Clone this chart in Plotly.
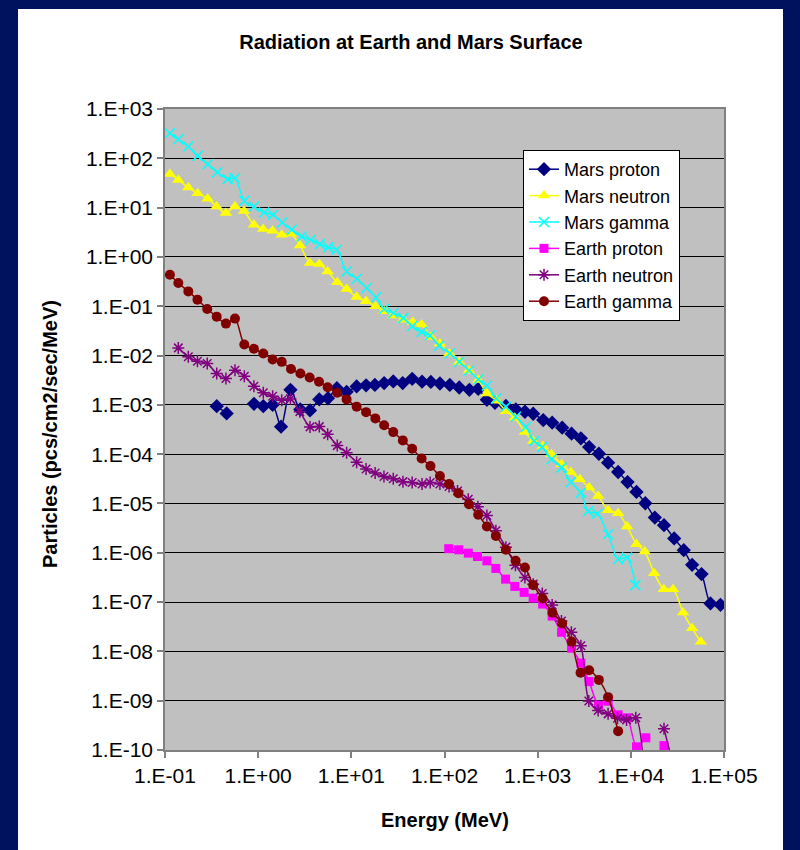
import plotly.graph_objects as go

# ---------------- data ----------------
mars_proton_E = [0.359, 0.459, 0.71, 0.902, 1.135, 1.43, 1.76, 2.22, 2.83, 3.6,
                 4.53, 5.61, 7.0, 8.9, 11.4, 14.4, 17.9, 22.5, 28.2, 35.6,
                 45.0, 57.4, 71.4, 89.3, 114, 144, 185, 230, 285, 348,
                 456, 583, 730, 895, 1147, 1431, 1833, 2311, 2910, 3570,
                 4540, 5700, 7310, 9220, 11500, 14300, 18100, 22700, 29200, 37000,
                 45500, 57400, 71600, 91600]
mars_proton_F = [0.000942, 0.00067, None, 0.00105, 0.000942, 0.001, 0.00036, 0.00202, 0.000807, 0.00077,
                 0.00129, 0.00136, 0.00217, 0.00184, 0.00236, 0.00249, 0.00253, 0.00277, 0.00298, 0.00276,
                 0.00337, 0.00295, 0.00291, 0.00271, 0.00253, 0.00225, 0.00202, 0.0021, 0.00127, 0.0011,
                 0.00095, 0.000807, 0.000724, 0.00066, 0.00049, 0.000434, 0.000344, 0.00026, 0.000209, 0.000139,
                 0.000102, 6.73e-5, 4.35e-5, 2.72e-5, 1.71e-5, 1.01e-5, 5.18e-6, 3.62e-6, 1.95e-6, 1.13e-6,
                 5.69e-7, 3.69e-7, 9.4e-8, 8.8e-8]

mars_neutron_E = [0.113, 0.139, 0.178, 0.224, 0.287, 0.358, 0.451, 0.564, 0.705, 0.90,
                  1.13, 1.43, 1.79, 2.25, 2.81, 3.60, 4.53, 5.57, 7.06, 8.9,
                  11.4, 14.4, 18.2, 22.5, 28.2, 36.1, 45.5, 56.8, 71.4, 89.3,
                  113, 144, 183, 231, 285, 365, 456, 569, 730, 895,
                  1130, 1409, 1804, 2270, 2840, 3570, 4460, 5700, 7310, 9120,
                  11500, 14100, 17800, 22600, 28400, 36400, 45500, 56400]
mars_neutron_F = [48.3, 36.5, 25.5, 19.6, 15.1, 10.5, 7.74, 10.5, 8.49, 4.48,
                  3.67, 3.39, 2.81, 2.95, 1.71, 0.753, 0.718, 0.508, 0.305, 0.224,
                  0.154, 0.126, 0.0995, 0.0788, 0.0645, 0.0535, 0.0481, 0.0424, 0.0239, 0.0175,
                  0.011, 0.00738, 0.00497, 0.00319, 0.0017, 0.00121, 0.000745, 0.000548, 0.00028, 0.000184,
                  0.000146, 9.9e-5, 6.22e-5, 4.35e-5, 3.09e-5, 2.1e-5, 1.42e-5, 7.28e-6, 6.34e-6, 3.41e-6,
                  1.49e-6, 1.06e-6, 3.86e-7, 1.83e-7, 1.83e-7, 6.18e-8, 2.94e-8, 1.57e-8]

mars_gamma_E = [0.113, 0.139, 0.178, 0.224, 0.287, 0.364, 0.471, 0.564, 0.71, 0.90,
                1.16, 1.45, 1.81, 2.29, 2.93, 3.66, 4.60, 5.65, 6.95, 8.9,
                11.4, 14.6, 18.4, 22.5, 28.2, 36.1, 45.0, 56.8, 69.7, 87.7,
                114, 144, 183, 230, 285, 360, 456, 583, 747, 917,
                1117, 1409, 1804, 2270, 2910, 3480, 4370, 5700, 7310, 9120,
                11200]
mars_gamma_F = [322, 244, 173, 112, 76, 52, 37.8, 39.5, 13.7, 10.5,
                7.96, 7.15, 4.99, 3.55, 2.60, 2.23, 1.82, 1.56, 1.40, 0.508,
                0.362, 0.234, 0.151, 0.088, 0.073, 0.058, 0.0392, 0.0302, 0.0254, 0.0159,
                0.011, 0.00745, 0.00497, 0.00327, 0.00247, 0.00135, 0.000914, 0.000574, 0.000354, 0.000184,
                0.000139, 7.85e-5, 5.33e-5, 2.72e-5, 1.66e-5, 6.95e-6, 6.18e-6, 2.38e-6, 7.41e-7, 8.03e-7,
                2.21e-7]

earth_proton_E = [111, 142, 180, 226, 285, 356, 453, 569, 716, 895,
                  1130, 1431, 1804, 2311, 2910, 3570, 4510, 5700, 7310, 9120,
                  11500, 14500, 18100, 22700]
earth_proton_F = [1.21e-6, 1.15e-6, 9.82e-7, 8.41e-7, 6.86e-7, 4.81e-7, 2.92e-7, 2.08e-7, 1.57e-7, 1.2e-7,
                  9.12e-8, 5.21e-8, 2.44e-8, 1.16e-8, 5.77e-9, 2.44e-9, 8.11e-10, 9.77e-10, 5.16e-10, 4.49e-10,
                  1.16e-10, 1.77e-10, None, 1.23e-10]

earth_neutron_E = [0.139, 0.178, 0.223, 0.284, 0.359, 0.451, 0.564, 0.71, 0.90, 1.135,
                   1.43, 1.79, 2.22, 2.8, 3.6, 4.53, 5.57, 7.06, 8.9, 11.4,
                   14.4, 18.0, 22.4, 28.2, 35.8, 45.0, 57.4, 70.2, 89.3, 112,
                   138, 180, 228, 285, 356, 456, 577, 730, 895, 1120,
                   1431, 1800, 2300, 2910, 3540, 4460, 5700, 7200, 9000, 11300,
                   14300, 18100, 22700, 29200]
earth_neutron_F = [0.0143, 0.00942, 0.00767, 0.00689, 0.00432, 0.00342, 0.00504, 0.00381, 0.00239, 0.00176,
                   0.0015, 0.00124, 0.00132, 0.000728, 0.000357, 0.000362, 0.000252, 0.000149, 0.000107, 6.83e-5,
                   4.99e-5, 4.14e-5, 3.52e-5, 3.16e-5, 2.77e-5, 2.65e-5, 2.48e-5, 2.65e-5, 2.48e-5, 2.21e-5,
                   1.79e-5, 1.22e-5, 8.57e-6, 5.69e-6, 2.8e-6, 1.3e-6, 5.61e-7, 3.16e-7, 2.31e-7, 1.49e-7,
                   8.69e-8, 4.12e-8, 2.44e-8, 1.3e-8, 9.9e-10, 6.31e-10, 5.41e-10, 4.42e-10, 4.08e-10, 4.49e-10,
                   1.3e-11, None, 2.69e-10, 4.2e-11]

earth_gamma_E = [0.113, 0.139, 0.178, 0.223, 0.284, 0.359, 0.451, 0.564, 0.71, 0.90,
                 1.135, 1.43, 1.79, 2.25, 2.84, 3.57, 4.5, 5.57, 7.06, 8.9,
                 11.4, 14.4, 18.1, 22.5, 28.2, 35.7, 45.0, 56.8, 70.7, 89.3,
                 112, 141, 183, 230, 285, 356, 456, 580, 730, 895,
                 1130, 1440, 1833, 2311, 2885, 3570, 4540, 5700, 7310]
earth_gamma_F = [0.436, 0.296, 0.2, 0.136, 0.0881, 0.0615, 0.0444, 0.0561, 0.0167, 0.0137,
                 0.011, 0.0083, 0.00745, 0.00533, 0.00432, 0.00359, 0.00295, 0.00228, 0.00176, 0.00129,
                 0.00092, 0.000711, 0.000531, 0.000386, 0.00028, 0.00019, 0.000129, 8.15e-5, 5.74e-5, 3.6e-5,
                 2.48e-5, 1.61e-5, 9.63e-6, 5.9e-6, 3.41e-6, 2.2e-6, 1.15e-6, 6.86e-7, 5.04e-7, 2.21e-7,
                 1.18e-7, 6.07e-8, 3.67e-8, 1.58e-8, 3.7e-9, 4.14e-9, 2.64e-9, 1.18e-9, 2.41e-10]

x_tickvals = [1e-1, 1e0, 1e1, 1e2, 1e3, 1e4, 1e5]
x_ticktext = ["1.E-01", "1.E+00", "1.E+01", "1.E+02", "1.E+03", "1.E+04", "1.E+05"]
y_tickvals = [1e-10, 1e-9, 1e-8, 1e-7, 1e-6, 1e-5, 1e-4, 1e-3, 1e-2, 1e-1, 1e0, 1e1, 1e2, 1e3]
y_ticktext = ["1.E-10", "1.E-09", "1.E-08", "1.E-07", "1.E-06", "1.E-05", "1.E-04",
              "1.E-03", "1.E-02", "1.E-01", "1.E+00", "1.E+01", "1.E+02", "1.E+03"]

# ---------------- figure ----------------
FONT = "Liberation Sans, Arial, sans-serif"
W, H = 800, 850
L, R, T, B = 165, 76, 109, 100
PW, PH = W - L - R, H - T - B


def px_x(p):
    return (p - L) / PW


def px_y(p):
    return (H - B - p) / PH


series = [
    ("Mars proton", mars_proton_E, mars_proton_F, "#000080", "diamond", 11, 0),
    ("Mars neutron", mars_neutron_E, mars_neutron_F, "#FFFF00", "triangle-up", 11, 0),
    ("Mars gamma", mars_gamma_E, mars_gamma_F, "#00FFFF", "x-thin-open", 10, 1.5),
    ("Earth proton", earth_proton_E, earth_proton_F, "#FF00FF", "square", 9, 0),
    ("Earth neutron", earth_neutron_E, earth_neutron_F, "#800080", "asterisk-open", 10, 1.5),
    ("Earth gamma", earth_gamma_E, earth_gamma_F, "#800000", "circle", 10, 0),
]

fig = go.Figure()
for name, xs, ys, col, sym, size, mlw in series:
    fig.add_trace(go.Scatter(
        x=xs, y=ys, name=name, mode="lines+markers",
        line=dict(color=col, width=1.5, shape="spline", smoothing=0.8),
        marker=dict(symbol=sym, size=size, color=col,
                    line=dict(color=col, width=mlw)),
        connectgaps=False,
    ))

navy = "#00125E"
shapes = [
    dict(type="rect", xref="paper", yref="paper", x0=px_x(0), x1=px_x(18),
         y0=px_y(H), y1=px_y(0), fillcolor=navy, line=dict(width=0)),
    dict(type="rect", xref="paper", yref="paper", x0=px_x(783), x1=px_x(W),
         y0=px_y(H), y1=px_y(0), fillcolor=navy, line=dict(width=0)),
    dict(type="rect", xref="paper", yref="paper", x0=px_x(0), x1=px_x(W),
         y0=px_y(9), y1=px_y(0), fillcolor=navy, line=dict(width=0)),
]

fig.update_layout(
    width=W, height=H, autosize=False,
    margin=dict(l=L, r=R, t=T, b=B, pad=0),
    paper_bgcolor="white", plot_bgcolor="#C0C0C0",
    font=dict(family=FONT, color="black"),
    title=dict(text="<b>Radiation at Earth and Mars Surface</b>",
               x=411 / W, xanchor="center", xref="container",
               y=1 - 42 / H, yanchor="middle", yref="container",
               font=dict(size=20, family=FONT, color="black")),
    shapes=shapes,
    showlegend=True,
    legend=dict(x=px_x(523), y=px_y(150), xanchor="left", yanchor="top",
                bgcolor="white", bordercolor="black", borderwidth=1,
                font=dict(size=18, family=FONT, color="black"),
                itemsizing="trace"),
    annotations=[
        dict(text="<b>Energy (MeV)</b>", xref="paper", yref="paper",
             x=px_x(445), y=px_y(820), xanchor="center", yanchor="middle",
             showarrow=False, font=dict(size=20, family=FONT, color="black")),
        dict(text="<b>Particles (pcs/cm2/sec/MeV)</b>", xref="paper", yref="paper",
             x=px_x(50), y=px_y(434), xanchor="center", yanchor="middle",
             textangle=-90, showarrow=False,
             font=dict(size=20, family=FONT, color="black")),
    ],
)

fig.update_xaxes(
    type="log", range=[-1, 5], tickvals=x_tickvals, ticktext=x_ticktext,
    ticks="outside", ticklen=6, tickcolor="#808080", tickwidth=1.5,
    showgrid=False, zeroline=False,
    showline=True, linecolor="#808080", linewidth=1.5, mirror=True,
    tickfont=dict(size=21, family=FONT, color="black"),
)
fig.update_yaxes(
    type="log", range=[-10, 3], tickvals=y_tickvals, ticktext=y_ticktext,
    ticks="outside", ticklen=6, tickcolor="#808080", tickwidth=1.5,
    showgrid=True, gridcolor="black", gridwidth=1, zeroline=False,
    showline=True, linecolor="#808080", linewidth=1.5, mirror=True,
    tickfont=dict(size=21, family=FONT, color="black"),
)

fig.write_html("out.html")
